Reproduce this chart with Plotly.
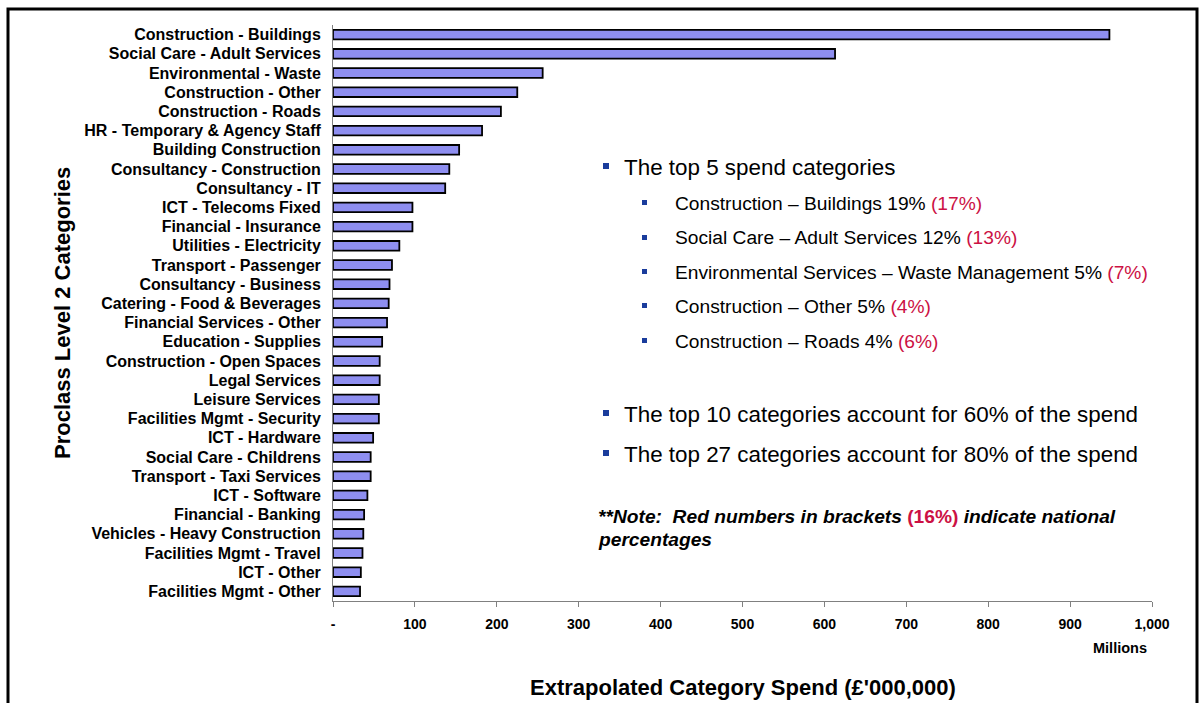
import plotly.graph_objects as go

categories = [
    "Construction - Buildings", "Social Care - Adult Services", "Environmental - Waste",
    "Construction - Other", "Construction - Roads", "HR - Temporary & Agency Staff",
    "Building Construction", "Consultancy - Construction", "Consultancy - IT",
    "ICT - Telecoms Fixed", "Financial - Insurance", "Utilities - Electricity",
    "Transport - Passenger", "Consultancy - Business", "Catering - Food & Beverages",
    "Financial Services - Other", "Education - Supplies", "Construction - Open Spaces",
    "Legal Services", "Leisure Services", "Facilities Mgmt - Security", "ICT - Hardware",
    "Social Care - Childrens", "Transport - Taxi Services", "ICT - Software",
    "Financial - Banking", "Vehicles - Heavy Construction", "Facilities Mgmt - Travel",
    "ICT - Other", "Facilities Mgmt - Other",
]
spend = [
    948, 613, 256, 225, 205, 182, 154, 142, 137,
    97, 97, 81, 72, 69, 68, 66, 60, 57,
    57, 56, 56, 49, 46, 46, 42, 38, 37, 36, 34, 33,
]
tick_vals = [0, 100, 200, 300, 400, 500, 600, 700, 800, 900, 1000]
tick_text = ["-", "100", "200", "300", "400", "500", "600", "700", "800", "900", "1,000"]

W, H = 1202, 703
L, R, T, B = 333, 1152, 25, 601

def px(x):
    return (x - L) / (R - L)

def py(y):
    return (B - y) / (B - T)

FONT = "Liberation Sans, Arial, sans-serif"
RED = "#CC1144"
BLUE = "#1A3C9C"

fig = go.Figure(go.Bar(
    x=spend, y=categories, orientation="h",
    marker=dict(color="#8E8EF0", line=dict(color="black", width=1.8)),
    width=0.5,
))

fig.update_layout(
    width=W, height=H,
    margin=dict(l=L, r=W - R, t=T, b=H - B, pad=0),
    paper_bgcolor="white", plot_bgcolor="white",
    showlegend=False,
    font=dict(family=FONT, color="black"),
    xaxis=dict(
        range=[0, 1000], tickvals=tick_vals, ticktext=tick_text,
        showgrid=False, zeroline=False,
        showline=True, linecolor="#808080", linewidth=1,
        ticks="outside", ticklen=5, tickcolor="#808080", tickwidth=1,
        tickfont=dict(family=FONT, size=14, color="black", weight="bold"),
        ticklabelstandoff=5,
    ),
    yaxis=dict(
        autorange=False, range=[len(categories) - 0.5, -0.5],
        categoryorder="array", categoryarray=categories,
        showgrid=False, zeroline=False,
        showline=True, linecolor="#808080", linewidth=1,
        ticks="", ticklabelstandoff=8,
        tickfont=dict(family=FONT, size=16, color="black", weight="bold"),
    ),
)

annotations = []
annotations.append(dict(x=px(743), y=py(687), text="<b>Extrapolated Category Spend (£'000,000)</b>",
                        font=dict(family=FONT, size=22, color="black"),
                        xanchor="center", yanchor="middle"))
annotations.append(dict(x=px(62), y=py(313), text="<b>Proclass Level 2 Categories</b>",
                        textangle=-90, font=dict(family=FONT, size=22, color="black"),
                        xanchor="center", yanchor="middle"))
annotations.append(dict(x=px(1149), y=py(648), text="<b>Millions</b>",
                        font=dict(family=FONT, size=14.5, color="black"),
                        xanchor="right", yanchor="middle"))

main_lines = [
    (167, "The top 5 spend categories"),
    (414, "The top 10 categories account for 60% of the spend"),
    (454, "The top 27 categories account for 80% of the spend"),
]
sub_lines = [
    (203, "Construction – Buildings 19%", "(17%)"),
    (238, "Social Care – Adult Services 12%", "(13%)"),
    (272, "Environmental Services – Waste Management 5%", "(7%)"),
    (306, "Construction – Other 5%", "(4%)"),
    (341, "Construction – Roads 4%", "(6%)"),
]

shapes = []
for yy, txt in main_lines:
    annotations.append(dict(x=px(622), y=py(yy), text=txt,
                            font=dict(family=FONT, size=22.4, color="black"),
                            xanchor="left", yanchor="middle"))
    shapes.append(dict(type="rect", xref="paper", yref="paper",
                       x0=px(603), x1=px(609), y0=py(yy - 4), y1=py(yy + 2),
                       fillcolor=BLUE, line=dict(width=0)))
for yy, txt, red in sub_lines:
    annotations.append(dict(x=px(673), y=py(yy), text=f"{txt} <span style='color:{RED}'>{red}</span>",
                            font=dict(family=FONT, size=19.2, color="black"),
                            xanchor="left", yanchor="middle"))
    shapes.append(dict(type="rect", xref="paper", yref="paper",
                       x0=px(642), x1=px(647), y0=py(yy - 3), y1=py(yy + 2),
                       fillcolor=BLUE, line=dict(width=0)))

annotations.append(dict(x=px(596), y=py(516),
                        text=f"<b><i>**Note:  Red numbers in brackets </i><span style='color:{RED}'>(16%)</span><i> indicate national</i></b>",
                        font=dict(family=FONT, size=19.2, color="black"),
                        xanchor="left", yanchor="middle"))
annotations.append(dict(x=px(596), y=py(539), text="<b><i>percentages</i></b>",
                        font=dict(family=FONT, size=19.2, color="black"),
                        xanchor="left", yanchor="middle"))

for a in annotations:
    a.update(xref="paper", yref="paper", showarrow=False)

# outer frame
shapes.append(dict(type="rect", xref="paper", yref="paper",
                   x0=px(8), x1=px(1197), y0=py(712), y1=py(9),
                   line=dict(color="black", width=3), fillcolor="rgba(0,0,0,0)"))

fig.update_layout(annotations=annotations, shapes=shapes)
fig.write_html("out.html")
